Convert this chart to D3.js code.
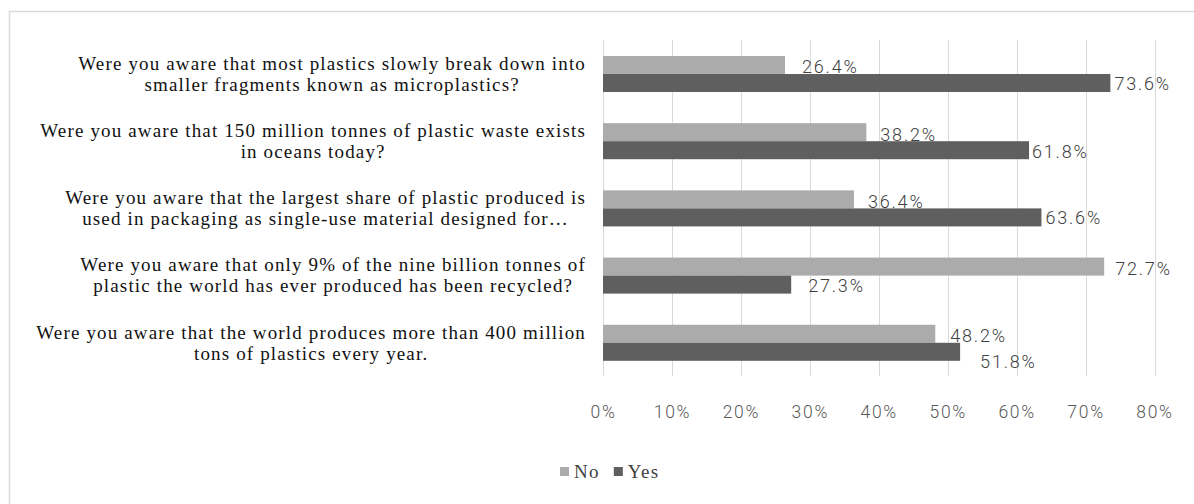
<!DOCTYPE html>
<html>
<head>
<meta charset="utf-8">
<script src="https://cdn.jsdelivr.net/npm/d3@7"></script>
<style>
  html, body { margin: 0; padding: 0; background: #fff; }
  svg { display: block; }
</style>
</head>
<body>
<svg id="chart" width="1194" height="504"></svg>
<script>
// ---- data ----
const categories = [
  "Were you aware that most plastics slowly break down into\nsmaller fragments known as microplastics?",
  "Were you aware that 150 million tonnes of plastic waste exists\nin oceans today?",
  "Were you aware that the largest share of plastic produced is\nused in packaging as single-use material designed for\u2026",
  "Were you aware that only 9% of the nine billion tonnes of\nplastic the world has ever produced has been recycled?",
  "Were you aware that the world produces more than 400 million\ntons of plastics every year."
];
const seriesNames = ["No", "Yes"];
const noValues  = [0.264, 0.382, 0.364, 0.727, 0.482];
const yesValues = [0.736, 0.618, 0.636, 0.273, 0.518];
const xTicks = [0, 0.1, 0.2, 0.3, 0.4, 0.5, 0.6, 0.7, 0.8];

// ---- layout / style (not data) ----
const colors = { No: "#ababab", Yes: "#5f5f5f" };
const labelNudge = {               // manual label offsets as in the original
  No:  [[17, 2], [14, 2], [14, 2], [11, 2], [15, 2]],
  Yes: [[4, 1], [3, 1], [4, 0], [17, 1], [20, 9.5]]
};
const serif = "'Liberation Serif', 'Times New Roman', serif";
const sans = "Roboto, 'Open Sans', 'DejaVu Sans', sans-serif";

const svg = d3.select("#chart");

// outer chart border
svg.append("rect")
  .attr("x", 9.5).attr("y", 11.5)
  .attr("width", 1300).attr("height", 700)
  .attr("fill", "#fff")
  .attr("stroke", "#d9d9d9").attr("stroke-width", 1.5);

const x = d3.scaleLinear().domain([0, 0.8]).range([603, 1154.5]);
const y = d3.scaleBand().domain(d3.range(categories.length))
  .range([40, 376.8]).paddingInner(0.464).paddingOuter(0.238);
const ys = d3.scaleBand().domain(seriesNames).range([0, y.bandwidth()]);

// gridlines
svg.append("g").selectAll("line").data(xTicks).join("line")
  .attr("x1", d => Math.round(x(d)) + 0.5).attr("x2", d => Math.round(x(d)) + 0.5)
  .attr("y1", 40).attr("y2", 376)
  .attr("stroke", "#d9d9d9").attr("stroke-width", 1);

// x axis tick labels
const xAxis = d3.axisBottom(x).tickValues(xTicks).tickFormat(d3.format(".0%")).tickSize(0).tickPadding(0);
const gx = svg.append("g").attr("transform", "translate(0,400)").call(xAxis);
gx.select(".domain").remove();
gx.selectAll("text")
  .attr("dy", "0")
  .attr("y", 18)
  .style("font-family", sans).style("font-weight", 300)
  .style("font-size", "17.5px").style("letter-spacing", "1.7px")
  .attr("fill", "#595959");

const rows = categories.map((c, i) => ({ i, No: noValues[i], Yes: yesValues[i] }));

function drawSeries(name) {
  const g = svg.append("g");
  g.selectAll("rect").data(rows).join("rect")
    .attr("x", x(0))
    .attr("y", d => y(d.i) + ys(name))
    .attr("width", d => x(d[name]) - x(0))
    .attr("height", ys.bandwidth())
    .attr("fill", colors[name]);
  g.selectAll("text").data(rows).join("text")
    .attr("x", d => x(d[name]) + labelNudge[name][d.i][0])
    .attr("y", d => y(d.i) + ys(name) + ys.bandwidth() / 2 + labelNudge[name][d.i][1])
    .attr("dy", "0.36em")
    .text(d => d3.format(".1%")(d[name]))
    .style("font-family", sans).style("font-weight", 300)
    .style("font-size", "18px").style("letter-spacing", "1.8px")
    .attr("fill", "#404040");
}
drawSeries("No");
drawSeries("Yes");

// category labels: block right-aligned, lines centered inside block
const labelRight = 586;
const lineH = 21;
const gy = svg.append("g");
categories.forEach((c, i) => {
  const lines = c.split("\n");
  const cy = y(i) + y.bandwidth() / 2;
  const t = gy.append("text")
    .style("font-family", serif).style("font-size", "19px")
    .style("letter-spacing", "1.15px")
    .attr("fill", "#111")
    .attr("text-anchor", "middle");
  const tsp = lines.map((ln, k) => t.append("tspan")
    .attr("y", cy + (k - (lines.length - 1) / 2) * lineH)
    .attr("dy", "0.33em")
    .text(ln));
  const maxW = d3.max(tsp, s => s.node().getComputedTextLength());
  tsp.forEach(s => s.attr("x", labelRight - maxW / 2));
});

// legend
const legend = svg.append("g").attr("transform", "translate(560,472)");
let lx = 0;
seriesNames.forEach(name => {
  const g = legend.append("g").attr("transform", `translate(${lx},0)`);
  g.append("rect").attr("x", 0).attr("y", -5).attr("width", 9).attr("height", 9)
    .attr("fill", colors[name]);
  const t = g.append("text").attr("x", 14).attr("y", 0).attr("dy", "0.33em")
    .style("font-family", serif).style("font-size", "19px")
    .style("letter-spacing", "1.3px")
    .attr("fill", "#404040").text(name);
  lx += 14 + t.node().getComputedTextLength() + 14;
});
</script>
</body>
</html>
